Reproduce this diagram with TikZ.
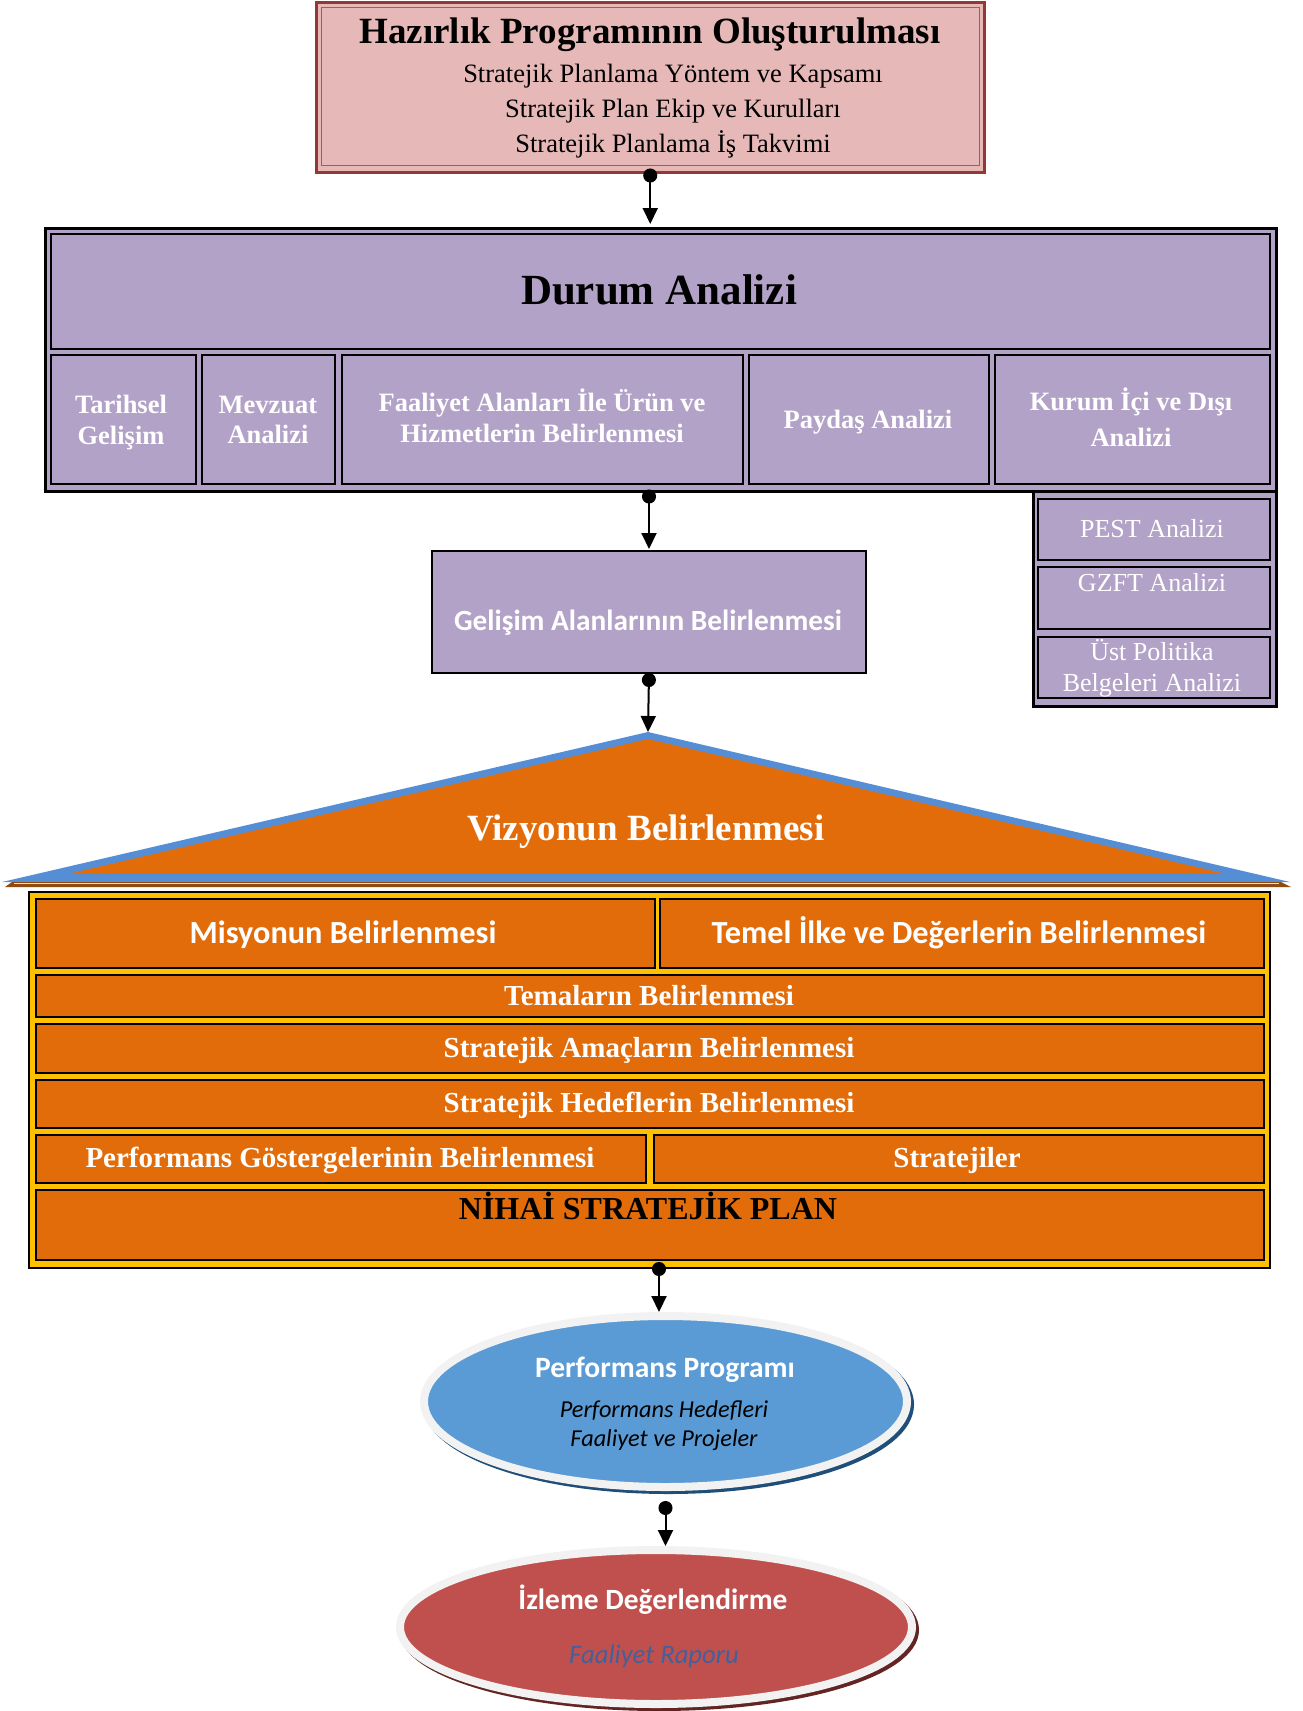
\documentclass[tikz,border=0pt]{standalone}
\usepackage{fontspec}
\setmainfont{Liberation Serif}
\newfontfamily\calib{Carlito}
\usetikzlibrary{arrows.meta,shapes.geometric}
\definecolor{pinkf}{HTML}{E6B9B8}
\definecolor{pinkd}{HTML}{953735}
\definecolor{pinkl}{HTML}{C0504D}
\definecolor{purp}{HTML}{B3A2C7}
\definecolor{orng}{HTML}{E36C0A}
\definecolor{yell}{HTML}{FFC000}
\definecolor{trib}{HTML}{558ED5}
\definecolor{brwn}{HTML}{8E4A10}
\definecolor{ellb}{HTML}{5B9BD5}
\definecolor{ellbd}{HTML}{1F4E79}
\definecolor{ellr}{HTML}{C0504D}
\definecolor{ellrd}{HTML}{632523}
\definecolor{rim}{HTML}{F2F2F2}
\definecolor{rapor}{HTML}{44609A}
\newcommand{\bx}[6]{\node[boxbase,#2,minimum width={#5pt-#3pt},minimum height={#6pt-#4pt}] (#1) at (#3,#4) {};}
\newcommand{\tx}[5]{\node[txtbase,#2] (#1) at (#3,#4) {#5};}
\begin{document}
\begin{tikzpicture}[x=1pt,y=-1pt,
  boxbase/.style={rectangle,inner sep=0pt,anchor=north west},
  txtbase/.style={anchor=base,inner sep=0pt},
  sub/.style={draw=black,fill=purp,line width=1.5pt},
  subt/.style={text=white,font=\bfseries\fontsize{26.5}{30}\selectfont},
  pant/.style={text=white,font=\fontsize{26}{30}\selectfont},
  row/.style={draw=black,fill=orng,line width=1.5pt},
  rowt/.style={text=white,font=\bfseries\fontsize{29}{32}\selectfont},
  calt/.style={text=white,font=\calib\bfseries\fontsize{32.3}{35}\selectfont},
  conn/.style={line width=2pt,{Circle[length=14pt]}-{Triangle[length=16pt,width=15pt]}}]
\useasboundingbox (0,0) rectangle (1303,1711);

% preparation
\bx{prep}{draw=pinkd,fill=pinkf,line width=2.5pt}{315}{1}{983}{171}
\draw[pinkl,line width=1pt] ([shift={(6.5,6)}]prep.north west) rectangle ([shift={(-6,-8)}]prep.south east);
\tx{prept}{font=\bfseries\fontsize{37}{40}\selectfont}{650}{43}{Hazırlık Programının Oluşturulması}
\tx{prep1}{font=\fontsize{26.5}{30}\selectfont}{673}{82}{Stratejik Planlama Yöntem ve Kapsamı}
\tx{prep2}{font=\fontsize{26.5}{30}\selectfont}{673}{117}{Stratejik Plan Ekip ve Kurulları}
\tx{prep3}{font=\fontsize{26.5}{30}\selectfont}{673}{152}{Stratejik Planlama İş Takvimi}

% right panel
\bx{pan}{draw=black,fill=purp,line width=2.5pt}{1032}{490}{1275}{705}
\bx{pest}{sub}{1037}{498}{1269}{559}
\bx{gzft}{sub}{1037}{566}{1269}{628}
\bx{ust}{sub}{1037}{636}{1269}{697}
\tx{pestt}{pant}{1152}{537}{PEST Analizi}
\tx{gzftt}{pant}{1152}{591}{GZFT Analizi}
\tx{ust1}{pant}{1152}{660}{Üst Politika}
\tx{ust2}{pant}{1152}{691}{Belgeleri Analizi}

% durum analizi
\bx{durum}{draw=black,fill=purp,line width=2.5pt}{44}{227}{1275}{490}
\bx{durumh}{sub}{50}{233}{1269}{348}
\tx{durumt}{font=\bfseries\fontsize{43}{46}\selectfont}{659}{304}{Durum Analizi}
\bx{tar}{sub}{50}{354}{195}{483}
\bx{mev}{sub}{201}{354}{334}{483}
\bx{faa}{sub}{341}{354}{742}{483}
\bx{pay}{sub}{748}{354}{988}{483}
\bx{kur}{sub}{994}{354}{1269}{483}
\tx{tar1}{subt}{121}{413}{Tarihsel}
\tx{tar2}{subt}{121}{444}{Gelişim}
\tx{mev1}{subt}{268}{413}{Mevzuat}
\tx{mev2}{subt}{268}{443}{Analizi}
\tx{faa1}{subt}{542}{411}{Faaliyet Alanları İle Ürün ve}
\tx{faa2}{subt}{542}{442}{Hizmetlerin Belirlenmesi}
\tx{payt}{subt}{868}{428}{Paydaş Analizi}
\tx{kur1}{subt}{1131}{410}{Kurum İçi ve Dışı}
\tx{kur2}{subt}{1131}{446}{Analizi}

% gelisim
\bx{gel}{draw=black,fill=purp,line width=2pt}{431}{550}{865}{672}
\tx{gelt}{text=white,font=\calib\bfseries\fontsize{29.3}{32}\selectfont}{648}{630}{Gelişim Alanlarının Belirlenmesi}

% vizyon roof
\coordinate (apex) at (648,732);
\fill[trib] (2,882) -- (apex) -- (1290,882) -- cycle;
\fill[orng] (72,873) -- (648,739) -- (1222,873) -- cycle;
\fill[brwn] (5,887) -- (1291,887) -- (1281,882) -- (12,882) -- cycle;
\draw[white!80!gray,line width=0.8pt] (14,883.5) -- (1279,883.5);
\tx{viz}{text=white,font=\bfseries\fontsize{37}{40}\selectfont}{646}{840}{Vizyonun Belirlenmesi}

% strategic plan block
\bx{frame}{draw=black,fill=yell,line width=2pt}{28}{891}{1269}{1267}
\bx{mis}{row}{35}{898}{654}{967}
\bx{tem}{row}{659}{898}{1263}{967}
\bx{tema}{row}{35}{974}{1263}{1016}
\bx{amac}{row}{35}{1023}{1263}{1072}
\bx{hed}{row}{35}{1079}{1263}{1127}
\bx{perf}{row}{35}{1134}{645}{1182}
\bx{strat}{row}{653}{1134}{1263}{1182}
\bx{nihai}{row}{35}{1189}{1263}{1259}
\tx{mist}{calt}{343}{943}{Misyonun Belirlenmesi}
\tx{temt}{calt}{959}{943}{Temel İlke ve Değerlerin Belirlenmesi}
\tx{temat}{rowt}{649}{1005}{Temaların Belirlenmesi}
\tx{amact}{rowt}{649}{1057}{Stratejik Amaçların Belirlenmesi}
\tx{hedt}{rowt}{649}{1112}{Stratejik Hedeflerin Belirlenmesi}
\tx{perft}{rowt}{340}{1167}{Performans Göstergelerinin Belirlenmesi}
\tx{stratt}{rowt}{957}{1167}{Stratejiler}
\tx{nihait}{font=\bfseries\fontsize{32}{34}\selectfont}{648}{1219}{NİHAİ STRATEJİK PLAN}

% ellipses
\node[ellipse,draw=rim,fill=ellb,line width=8pt,inner sep=0pt,minimum width=483pt,minimum height=171pt,
  preaction={draw=ellbd,fill=ellbd,line width=8pt,transform canvas={xshift=3pt,yshift=-3pt}}] (ell1) at (665.5,1401.5) {};
\tx{ell1a}{text=white,font=\calib\bfseries\fontsize{29.5}{32}\selectfont}{665}{1377}{Performans Programı}
\tx{ell1b}{font=\calib\itshape\fontsize{24.3}{27}\selectfont}{664}{1417}{Performans Hedefleri}
\tx{ell1c}{font=\calib\itshape\fontsize{24.3}{27}\selectfont}{664}{1446}{Faaliyet ve Projeler}
\node[ellipse,draw=rim,fill=ellr,line width=8pt,inner sep=0pt,minimum width=512pt,minimum height=154pt,
  preaction={draw=ellrd,fill=ellrd,line width=8pt,transform canvas={xshift=3pt,yshift=-3pt}}] (ell2) at (656,1627) {};
\tx{ell2a}{text=white,font=\calib\bfseries\fontsize{29.4}{32}\selectfont}{653}{1609}{İzleme Değerlendirme}
\tx{ell2b}{text=rapor,font=\calib\itshape\fontsize{26.7}{30}\selectfont}{654}{1663}{Faaliyet Raporu}

% connectors
\draw[conn,shorten <=-5pt,shorten >=3pt] (prep.south) -- (prep.south |- durum.north);
\draw[conn,shorten <=-3pt,shorten >=1pt] (durum.south -| gel.north) -- (gel.north);
\draw[conn,shorten <=-1pt] (gel.south) -- (apex);
\draw[conn,shorten <=-7pt] ([xshift=9.5pt]frame.south) -- ([xshift=9.5pt]frame.south |- ell1.north);
\draw[conn,shorten <=10pt] (ell1.south) -- (ell1.south |- ell2.north);
\end{tikzpicture}
\end{document}
